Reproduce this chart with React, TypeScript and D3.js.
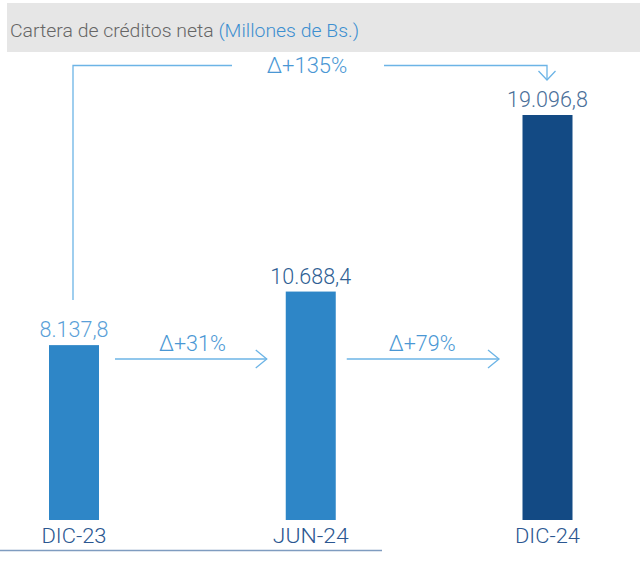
import React from "react";
import * as d3 from "d3";

const categories = ["DIC-23", "JUN-24", "DIC-24"];
const values = [8137.8, 10688.4, 19096.8];
const valueLabels = ["8.137,8", "10.688,4", "19.096,8"];
const deltaLabels = ["Δ+31%", "Δ+79%"];
const totalDeltaLabel = "Δ+135%";
const barColors = ["#2e86c7", "#2e86c7", "#134a84"];
const valueColors = ["#5a9fd8", "#2f5f94", "#4a6f99"];

export default function App() {
  const W = 640, H = 585;
  const x = d3.scalePoint<string>().domain(categories).range([74, 547.5]);
  const y = d3.scaleLinear().domain([0, d3.max(values)!]).range([516, 115]);
  const bottom = 520;
  const bw = 50;
  const arrowColor = "#6cb4e6";
  const deltaColor = "#4a97d4";
  const font = "Roboto, 'Open Sans', sans-serif";

  const x0 = x(categories[0])!, x1 = x(categories[1])!, x2 = x(categories[2])!;
  const arrowY = 359;
  const chev = (tx: number, ty: number) =>
    `M${tx - 11},${ty - 9} L${tx},${ty} L${tx - 11},${ty + 9}`;

  return (
    <svg width={W} height={H} style={{ position: "absolute", left: 0, top: 0 }}>
      <rect x={7} y={3} width={633} height={49} fill="#e6e6e6" />
      <text x={10} y={37} fontFamily={font} fontWeight={300} fontSize={19} fill="#666"
        textLength={349} lengthAdjust="spacingAndGlyphs">
        Cartera de créditos neta{" "}
        <tspan fill="#3d8fd0">(Millones de Bs.)</tspan>
      </text>

      {categories.map((c, i) => (
        <rect key={c} x={x(c)! - bw / 2} y={y(values[i])} width={bw}
          height={bottom - y(values[i])} fill={barColors[i]} />
      ))}

      {categories.map((c, i) => (
        <text key={"v" + c} x={x(c)!} y={y(values[i]) - 8} textAnchor="middle"
          fontFamily={font} fontWeight={300} fontSize={21.5} fill={valueColors[i]}>
          {valueLabels[i]}
        </text>
      ))}

      {categories.map((c) => (
        <text key={"c" + c} x={x(c)!} y={543} textAnchor="middle"
          fontFamily={font} fontWeight={300} fontSize={21} fill="#2b5791"
          textLength={c.startsWith("JUN") ? 76 : 65} lengthAdjust="spacingAndGlyphs">
          {c}
        </text>
      ))}
      <line x1={0} x2={382} y1={550.5} y2={550.5} stroke="#7f9cc0" strokeWidth={1.5} />

      {/* short arrows */}
      <g stroke={arrowColor} strokeWidth={1.3} fill="none">
        <line x1={x0 + 41} x2={x1 - 44} y1={arrowY} y2={arrowY} />
        <path d={chev(x1 - 44, arrowY)} />
        <line x1={x1 + 36} x2={x2 - 48.5} y1={arrowY} y2={arrowY} />
        <path d={chev(x2 - 48.5, arrowY)} />
      </g>
      <text x={(x0 + x1) / 2} y={351} textAnchor="middle" fontFamily={font}
        fontWeight={300} fontSize={21.5} fill={deltaColor}>{deltaLabels[0]}</text>
      <text x={(x1 + x2) / 2 - 7} y={351} textAnchor="middle" fontFamily={font}
        fontWeight={300} fontSize={21.5} fill={deltaColor}>{deltaLabels[1]}</text>

      {/* bracket */}
      <g stroke={arrowColor} strokeWidth={1.3} fill="none">
        <path d={`M${x0 - 1},300 L${x0 - 1},65.5 L232,65.5`} />
        <path d={`M384,65.5 L${x2 - 0.5},65.5 L${x2 - 0.5},80`} />
        <path d={`M${x2 - 9},71 L${x2 - 0.5},80 L${x2 + 8},71`} />
      </g>
      <text x={307} y={73} textAnchor="middle" fontFamily={font} fontWeight={300}
        fontSize={22} fill={deltaColor}>{totalDeltaLabel}</text>
    </svg>
  );
}
